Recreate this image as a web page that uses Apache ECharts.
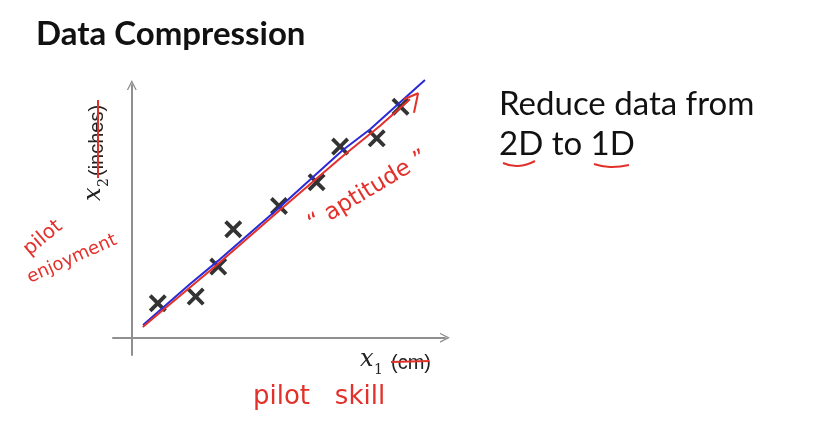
<!DOCTYPE html>
<html>
<head>
<meta charset="utf-8">
<script src="https://cdn.jsdelivr.net/npm/echarts@6/dist/echarts.min.js"></script>
<style>
html,body{margin:0;padding:0;background:#fff;}
#chart{width:821px;height:424px;}
</style>
</head>
<body>
<div id="chart"></div>
<script>
// ---- data ----
const pointsX = [0.83, 2.04, 2.76, 3.24, 4.70, 5.90, 6.65, 7.82, 8.58];
const pointsY = [1.09, 1.30, 2.25, 3.43, 4.17, 4.92, 6.05, 6.31, 7.31];
const blueX = [0.36, 1.86, 2.75, 4.73, 6.74, 7.61, 9.36];
const blueY = [0.40, 1.70, 2.43, 4.14, 5.94, 6.60, 8.16];
const redX = [0.35, 2.75, 4.73, 6.74, 7.92, 8.88];
const redY = [0.34, 2.33, 4.04, 5.75, 6.70, 7.55];
const arrowX = [8.69, 9.14, 9.01];
const arrowY = [7.55, 7.74, 7.12];
const titleText = 'Data Compression';
const sideLines = ['Reduce data from', '2D to 1D'];
const xName = ['x', '1', '(cm)'];
const yName = ['x', '2', '(inches)'];
const notes = { skill: 'pilot   skill', pilot: 'pilot', enjoy: 'enjoyment', apt: '“ aptitude ”' };

const zip = (a, b) => a.map((v, i) => [v, b[i]]);
const RED = '#e2312b';
const crossPath = 'path://M0,3 L3,0 L10,7 L17,0 L20,3 L13,10 L20,17 L17,20 L10,13 L3,20 L0,17 L7,10 Z';
const chevron = 'path://M0,10 L5,0 L10,10 L8.6,10 L5,3 L1.4,10 Z';
const hand = '"DejaVu Sans", sans-serif';

const chart = echarts.init(document.getElementById('chart'));
chart.setOption({
  backgroundColor: '#ffffff',
  animation: false,
  grid: { left: 113, right: 376, top: 85, bottom: 69 },
  xAxis: {
    type: 'value', min: -0.6, max: 10,
    axisLine: { onZero: true, symbol: ['none', chevron], symbolSize: [12, 10], lineStyle: { color: '#8f8f8f', width: 2 } },
    axisTick: { show: false }, axisLabel: { show: false }, splitLine: { show: false }
  },
  yAxis: {
    type: 'value', min: -0.55, max: 8,
    axisLine: { onZero: true, symbol: ['none', chevron], symbolSize: [12, 10], lineStyle: { color: '#8f8f8f', width: 2 } },
    axisTick: { show: false }, axisLabel: { show: false }, splitLine: { show: false }
  },
  series: [
    { type: 'scatter', data: zip(pointsX, pointsY), symbol: crossPath, symbolSize: 18, itemStyle: { color: '#000' }, z: 2 },
    { type: 'line', data: zip(blueX, blueY), showSymbol: false, clip: false, lineStyle: { color: '#2a2ad8', width: 2 }, z: 3 },
    { type: 'line', data: zip(redX, redY), showSymbol: false, clip: false, lineStyle: { color: RED, width: 2 }, z: 4 },
    { type: 'line', data: zip(arrowX, arrowY), showSymbol: false, clip: false, lineStyle: { color: RED, width: 2 }, z: 4 }
  ],
  graphic: [
    { type: 'text', left: 36, top: 18, style: { text: titleText, font: 'bold 33px Lato, "Open Sans", sans-serif', fill: '#111' } },
    { type: 'text', left: 499, top: 88, style: { text: sideLines[0], font: '33px Lato, "Open Sans", sans-serif', fill: '#111' } },
    { type: 'text', left: 499, top: 128, style: { text: sideLines[1], font: '33px Lato, "Open Sans", sans-serif', fill: '#111' } },
    { type: 'polyline', shape: { points: [[503, 163], [518, 166], [535, 161]], smooth: 0.5 }, style: { stroke: RED, lineWidth: 2, fill: null } },
    { type: 'polyline', shape: { points: [[594, 164], [610, 167], [629, 165]], smooth: 0.5 }, style: { stroke: RED, lineWidth: 2, fill: null } },
    // x1 (cm)
    { type: 'group', x: 360, y: 372, children: [
      { type: 'text', x: 0, y: 0, style: { text: xName[0], font: 'italic 24px "DejaVu Serif", serif', fill: '#222', textVerticalAlign: 'bottom' } },
      { type: 'text', x: 14, y: 5, style: { text: xName[1], font: '14px "DejaVu Serif", serif', fill: '#222', textVerticalAlign: 'bottom' } },
      { type: 'text', x: 31, y: 1, style: { text: xName[2], font: '20px "Liberation Sans", sans-serif', fill: '#222', textVerticalAlign: 'bottom' } },
      { type: 'line', shape: { x1: 31, y1: -10, x2: 69, y2: -11 }, style: { stroke: RED, lineWidth: 2 } }
    ] },
    // x2 (inches)
    { type: 'group', x: 106, y: 201, rotation: Math.PI / 2, children: [
      { type: 'text', x: 0, y: 0, style: { text: yName[0], font: 'italic 24px "DejaVu Serif", serif', fill: '#222', textVerticalAlign: 'bottom' } },
      { type: 'text', x: 14, y: 5, style: { text: yName[1], font: '14px "DejaVu Serif", serif', fill: '#222', textVerticalAlign: 'bottom' } },
      { type: 'text', x: 25, y: 1, style: { text: yName[2], font: '20px "Liberation Sans", sans-serif', fill: '#222', textVerticalAlign: 'bottom' } },
      { type: 'line', shape: { x1: 23, y1: -8, x2: 101, y2: -8 }, style: { stroke: RED, lineWidth: 2 } }
    ] },
    // handwritten notes
    { type: 'text', x: 253, y: 410, style: { text: notes.skill, font: '26px ' + hand, fill: RED, textVerticalAlign: 'bottom' } },
    { type: 'text', x: 43, y: 238, rotation: 0.7, style: { text: notes.pilot, font: '20px ' + hand, fill: RED, textAlign: 'center', textVerticalAlign: 'middle' } },
    { type: 'text', x: 72, y: 259, rotation: 0.42, style: { text: notes.enjoy, font: '18px ' + hand, fill: RED, textAlign: 'center', textVerticalAlign: 'middle' } },
    { type: 'text', x: 368, y: 191, rotation: 0.54, style: { text: notes.apt, font: '23px ' + hand, fill: RED, textAlign: 'center', textVerticalAlign: 'middle' } }
  ]
});
</script>
</body>
</html>
